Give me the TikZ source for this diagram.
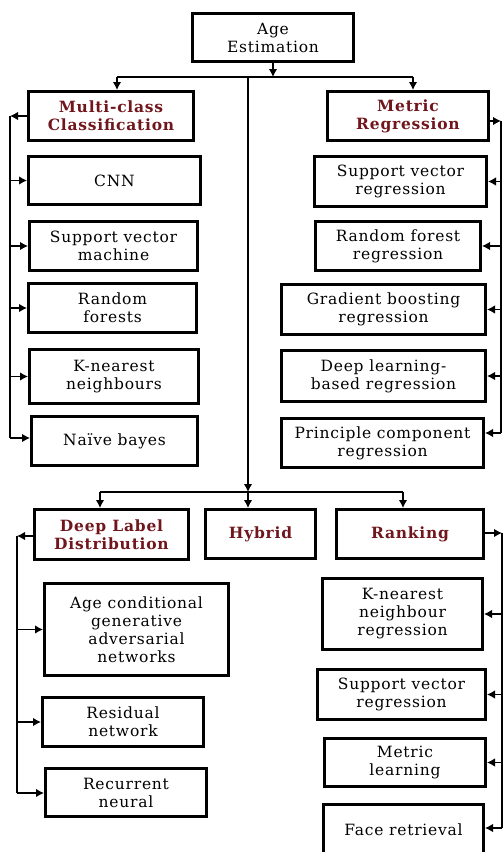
\documentclass[tikz,border=0pt]{standalone}
\usepackage{fontspec}
\setmainfont{DejaVu Serif}[LetterSpace=5]
\usetikzlibrary{arrows.meta}
\definecolor{headred}{RGB}{112,22,28}

\begin{document}
\begin{tikzpicture}[x=1pt,y=-1pt,
    box/.style={draw,line width=3pt,align=center,inner sep=1pt,font=\fontsize{15.5}{18}\selectfont},
    headbox/.style={box,text=headred,font=\fontsize{15.5}{18}\selectfont\bfseries},
    arr/.style={-{Latex[length=8pt,width=8.5pt]},line width=1.3pt},
    bus/.style={line width=1.3pt}]
    \useasboundingbox (0,0) rectangle (503,852);

    % Draw root
    \node[box,minimum width=161,minimum height=48] (root) at (273,37.5) {Age\\Estimation};

    % Draw first level
    \node[headbox,minimum width=165,minimum height=49] (mcc) at (111,116) {Multi-class\\Classification};
    \node[headbox,minimum width=161,minimum height=49] (metric) at (408,116) {Metric\\Regression};

    % Draw multi-class methods
    \node[box,minimum width=172,minimum height=48] (cnn) at (114.5,180.5) {CNN};
    \node[box,minimum width=168,minimum height=49] (svm) at (113.5,246) {Support vector\\machine};
    \node[box,minimum width=168,minimum height=49] (rf) at (112.5,308) {Random\\forests};
    \node[box,minimum width=169,minimum height=54] (knn) at (114,376.5) {K-nearest\\neighbours};
    \node[box,minimum width=166,minimum height=49] (nb) at (114.5,441) {Naïve bayes};

    % Draw regression methods
    \node[box,minimum width=172,minimum height=50] (svr) at (400.5,181.5) {Support vector\\regression};
    \node[box,minimum width=165,minimum height=49] (rfr) at (398,246) {Random forest\\regression};
    \node[box,minimum width=204,minimum height=50] (gbr) at (383.5,309.5) {Gradient boosting\\regression};
    \node[box,minimum width=204,minimum height=51] (dlr) at (383.5,376) {Deep learning-\\based regression};
    \node[box,minimum width=202,minimum height=49] (pcr) at (382.5,443) {Principle component\\regression};

    % Draw second level
    \node[headbox,minimum width=154,minimum height=50] (dld) at (111.5,534.5) {Deep Label\\Distribution};
    \node[headbox,minimum width=110,minimum height=49] (hyb) at (260.5,534) {Hybrid};
    \node[headbox,minimum width=147,minimum height=49] (rank) at (410,534) {Ranking};

    % Draw label distribution methods
    \node[box,minimum width=184,minimum height=92] (acgan) at (136.5,629.5) {Age conditional\\generative\\adversarial\\networks};
    \node[box,minimum width=161,minimum height=49] (resn) at (123,722) {Residual\\network};
    \node[box,minimum width=161,minimum height=48] (rnn) at (126,792.5) {Recurrent\\neural};

    % Draw ranking methods
    \node[box,minimum width=160,minimum height=71] (knr) at (402.5,614) {K-nearest\\neighbour\\regression};
    \node[box,minimum width=168,minimum height=50] (svrr) at (401.5,694.5) {Support vector\\regression};
    \node[box,minimum width=161,minimum height=48] (ml) at (405,762.5) {Metric\\learning};
    \node[box,minimum width=160,minimum height=51] (fr) at (403.5,830) {Face retrieval};

    % Bus points
    \coordinate (t0) at (273,77);
    \coordinate (tl) at (117,77);
    \coordinate (tr) at (413,77);
    \coordinate (tc) at (248,77);
    \coordinate (m0) at (248,492);
    \coordinate (ml0) at (100,492);
    \coordinate (mr0) at (403,492);
    \coordinate (lb1) at (10,116);
    \coordinate (lb1e) at (10,438);
    \coordinate (rb1) at (501,121);
    \coordinate (rb1e) at (501,433);
    \coordinate (lb2) at (17,536);
    \coordinate (lb2e) at (17,793);
    \coordinate (rb2) at (502,533);
    \coordinate (rb2e) at (502,828);

    % Draw top tree
    \draw[arr] (root) -- (t0);
    \draw[bus] (tl) -- (tr);
    \draw[arr] (tl) -- (tl |- mcc.north);
    \draw[arr] (tr) -- (tr |- metric.north);
    \draw[arr] (tc) -- (m0);

    % Draw middle tree
    \draw[bus] (ml0) -- (mr0);
    \draw[arr] (ml0) -- (ml0 |- dld.north);
    \draw[arr] (m0) -- (m0 |- hyb.north);
    \draw[arr] (mr0) -- (mr0 |- rank.north);

    % Draw left bus of multi-class
    \draw[arr] (mcc.west) -- (lb1);
    \draw[bus] (lb1) -- (lb1e);
    \draw[arr] (lb1 |- cnn.west) -- (cnn.west);
    \draw[arr] (lb1 |- svm.west) -- (svm.west);
    \draw[arr] (lb1 |- rf.west) -- (rf.west);
    \draw[arr] (lb1 |- knn.west) -- (knn.west);
    \draw[arr] (lb1e) -- (lb1e -| nb.west);

    % Draw right bus of regression
    \draw[arr] (metric.east |- rb1) -- (rb1);
    \draw[bus] (rb1) -- (rb1e);
    \draw[arr] (rb1 |- svr.east) -- (svr.east);
    \draw[arr] (rb1 |- rfr.east) -- (rfr.east);
    \draw[arr] (rb1 |- gbr.east) -- (gbr.east);
    \draw[arr] (rb1 |- dlr.east) -- (dlr.east);
    \draw[arr] (rb1e) -- (rb1e -| pcr.east);

    % Draw left bus of label distribution
    \draw[arr] (dld.west |- lb2) -- (lb2);
    \draw[bus] (lb2) -- (lb2e);
    \draw[arr] (lb2 |- acgan.west) -- (acgan.west);
    \draw[arr] (lb2 |- resn.west) -- (resn.west);
    \draw[arr] (lb2e) -- (lb2e -| rnn.west);

    % Draw right bus of ranking
    \draw[arr] (rank.east |- rb2) -- (rb2);
    \draw[bus] (rb2) -- (rb2e);
    \draw[arr] (rb2 |- knr.east) -- (knr.east);
    \draw[arr] (rb2 |- svrr.east) -- (svrr.east);
    \draw[arr] (rb2 |- ml.east) -- (ml.east);
    \draw[arr] (rb2e) -- (rb2e -| fr.east);
\end{tikzpicture}
\end{document}
